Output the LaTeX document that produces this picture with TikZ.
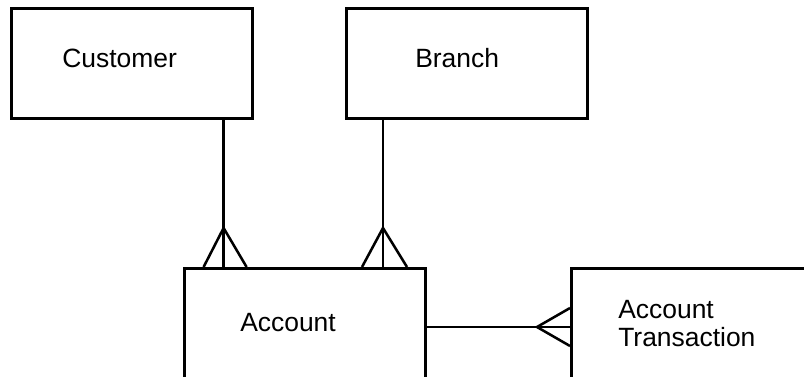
\documentclass[tikz,border=0pt]{standalone}
\usepackage{fontspec}
\setmainfont{Liberation Sans}
\usetikzlibrary{calc}

\tikzset{
  entity/.style={draw, line width=1.8pt, minimum width=6.025cm, minimum height=2.75cm,
    inner sep=0pt, anchor=north west},
  entitytext/.style={font=\fontsize{18.8}{19.8}\selectfont, align=left, inner sep=0pt},
  rel/.style={line width=1.8pt, line join=miter},
}

\begin{document}
\begin{tikzpicture}[x=0.025cm, y=-0.025cm]
\useasboundingbox (0,0) rectangle (804,376);
\clip (0,0) rectangle (804,376);

% Entities (the lower two run off the bottom edge)
\node[entity] (customer) at (10,7) {};
\node[entity] (branch) at (345,7) {};
\node[entity, minimum height=2.85cm] (account) at (183,267) {};
\node[entity, minimum height=2.85cm] (transaction) at (570,267) {};

% Entity names
\node[entitytext, anchor=west] (customername) at (62,58.5) {Customer};
\node[entitytext, anchor=west] (branchname) at (415,58.5) {Branch};
\node[entitytext, anchor=west] (accountname) at (240,322.5) {Account};
\node[entitytext, anchor=north west] (transactionname) at (618,300) {Account\\Transaction};

% Customer -- Account, many accounts
\coordinate (custend) at ($(customer.south east)+(-30,0)$);
\draw[rel] (custend) -- (custend |- account.north);
\draw[rel] ($(custend |- account.north)+(-20,0)$) -- ($(custend |- account.north)+(0,-39)$)
  -- ($(custend |- account.north)+(23,0)$);

% Branch -- Account, many accounts
\coordinate (branchend) at ($(branch.south west)+(38,0)$);
\draw[rel] (branchend) -- (branchend |- account.north);
\draw[rel] ($(branchend |- account.north)+(-21,0)$) -- ($(branchend |- account.north)+(0,-39)$)
  -- ($(branchend |- account.north)+(24,0)$);

% Account -- Account Transaction, many transactions
\coordinate (acctend) at ($(account.north east)+(0,60)$);
\draw[rel] (acctend) -- (acctend -| transaction.west);
\draw[rel] ($(acctend -| transaction.west)+(0,-19)$) -- ($(acctend -| transaction.west)+(-33,0)$)
  -- ($(acctend -| transaction.west)+(0,19)$);
\end{tikzpicture}
\end{document}
